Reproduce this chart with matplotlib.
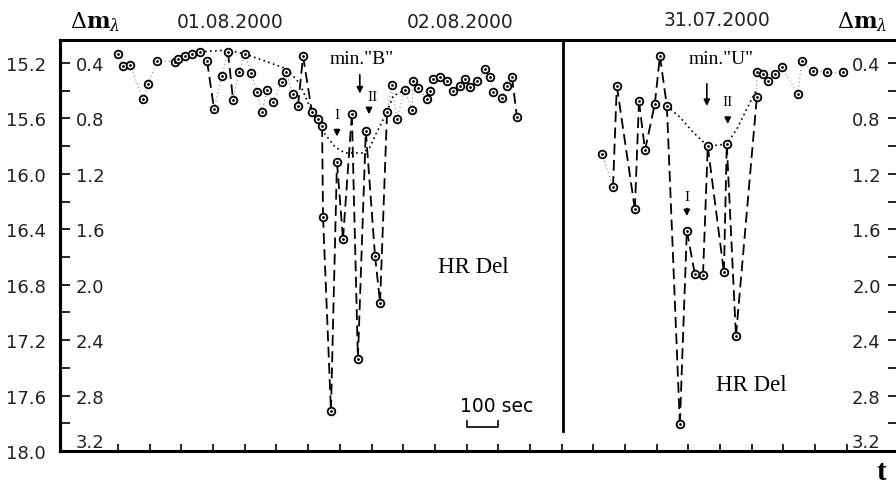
import numpy as np
import matplotlib.pyplot as plt

# time in seconds (tick every 100 s), delta m in magnitudes
# 01.08 / 02.08.2000 run (left part)
t_b = [0, 16, 38, 79, 95, 123, 180, 189, 211, 233, 259, 281, 303, 328, 347, 363,
       382, 401, 420, 439, 454, 470, 489, 517, 530, 552, 568, 584, 612, 631, 644,
       647, 672, 691, 710, 738, 757, 782, 811, 827, 849, 864, 880, 905, 928, 931,
       947, 975, 984, 994, 1016, 1038, 1057, 1079, 1095, 1111, 1133, 1158, 1174,
       1183, 1212, 1227, 1243, 1259]
m_b = [0.335, 0.42, 0.415, 0.66, 0.55, 0.385, 0.39, 0.37, 0.35, 0.335, 0.32, 0.385,
       0.73, 0.495, 0.32, 0.665, 0.465, 0.335, 0.47, 0.61, 0.755, 0.595, 0.68,
       0.535, 0.465, 0.625, 0.71, 0.35, 0.755, 0.805, 0.855, 1.51, 2.91, 1.115,
       1.67, 0.77, 2.535, 0.89, 1.79, 2.13, 0.755, 0.56, 0.805, 0.595, 0.74, 0.53,
       0.58, 0.66, 0.6, 0.515, 0.5, 0.53, 0.6, 0.565, 0.515, 0.575, 0.53, 0.445,
       0.5, 0.61, 0.65, 0.565, 0.5, 0.79]
# mean curve through min "B"
tb_mean = [259, 347, 401, 464, 533, 574, 612, 653, 685, 716, 773, 795, 817, 849, 868, 905]
mb_mean = [0.32, 0.306, 0.335, 0.386, 0.443, 0.55, 0.754, 0.912, 1.006, 1.049,
           1.049, 1.006, 0.898, 0.754, 0.638, 0.595]

# 31.07.2000 run (right part)
t_u = [1527, 1562, 1574, 1631, 1644, 1663, 1694, 1710, 1732, 1773, 1795, 1820, 1846,
       1861, 1912, 1921, 1950, 2016, 2015, 2035, 2051, 2073, 2095, 2145, 2158, 2193,
       2237, 2287]
m_u = [1.055, 1.295, 0.565, 1.455, 0.675, 1.03, 0.695, 0.35, 0.71, 3.005, 1.61, 1.92,
       1.93, 1.0, 1.91, 0.985, 2.37, 0.645, 0.465, 0.48, 0.53, 0.48, 0.43, 0.625,
       0.385, 0.46, 0.465, 0.465]
tu_mean = [1732, 1773, 1814, 1861, 1921, 1953, 1984, 2016]
mu_mean = [0.71, 0.79, 0.898, 1.0, 0.985, 0.876, 0.732, 0.588]

major = [0.4, 0.8, 1.2, 1.6, 2.0, 2.4, 2.8, 3.2]
minor = [0.6, 1.0, 1.4, 1.8, 2.2, 2.6, 3.0]
offset = 14.8          # stellar magnitude = delta m + 14.8
divider_t = 1405
x_ticks = np.arange(0, 2400, 100)

W, H = 896, 489
fig = plt.figure(figsize=(W / 100, H / 100), dpi=100)
ax = fig.add_axes([60 / W, 37 / H, 836 / W, 411 / H])
ax.set_xlim(-183, 2455)
ax.set_ylim(3.2, 0.234)

for s in ['top', 'left', 'bottom']:
    ax.spines[s].set_linewidth(2.2)
ax.spines['right'].set_visible(False)

ax.set_xticks(x_ticks)
ax.tick_params(axis='x', direction='in', length=5, width=1.2, labelbottom=False)

# inner left labels (delta m)
ax.set_yticks(major)
ax.set_yticks(minor, minor=True)
ax.set_yticklabels(['%.1f' % v for v in major])
ax.tick_params(axis='y', which='both', direction='in', length=7, width=1.2,
               pad=-11.5, labelsize=13, labelcolor='#222222')
for lbl in ax.get_yticklabels():
    lbl.set_horizontalalignment('left')
ax.get_yticklabels()[-1].set_verticalalignment('bottom')

# outer left labels (magnitudes)
sec = ax.secondary_yaxis('left', functions=(lambda y: y + offset, lambda y: y - offset))
sec.set_yticks([v + offset for v in major])
sec.set_yticklabels(['%.1f' % (v + offset) for v in major])
sec.tick_params(axis='y', length=0, pad=10, labelsize=13, labelcolor='#222222')
sec.spines['left'].set_linewidth(2.2)

# right scale for 31.07
ax2 = ax.twinx()
ax2.set_ylim(ax.get_ylim())
for s in ax2.spines.values():
    s.set_visible(False)
ax2.set_yticks(major)
ax2.set_yticks(minor, minor=True)
ax2.set_yticklabels(['%.1f' % v for v in major])
ax2.tick_params(axis='y', which='both', direction='in', length=6, width=1.2,
                pad=-11, labelsize=13, labelcolor='#222222')
for lbl in ax2.get_yticklabels():
    lbl.set_horizontalalignment('right')
ax2.get_yticklabels()[-1].set_verticalalignment('bottom')


def draw_run(t, m):
    for i in range(len(t) - 1):
        dm = abs(m[i + 1] - m[i])
        if dm > 0.25:
            ax.plot(t[i:i + 2], m[i:i + 2], color='k', lw=1.3, dashes=(6, 3))
        else:
            ax.plot(t[i:i + 2], m[i:i + 2], color='#666666', lw=0.7, dashes=(1, 3))
    ax.plot(t, m, 'o', ms=5.5, mfc='white', mec='k', mew=1.3, zorder=3)
    ax.plot(t, m, '.', ms=2, color='k', zorder=4)


draw_run(t_b, m_b)
draw_run(t_u, m_u)
ax.plot(tb_mean, mb_mean, color='k', lw=1.2, dashes=(1, 2))
ax.plot(tu_mean, mu_mean, color='k', lw=1.2, dashes=(1, 2))

ax.axvline(divider_t, ymin=0.049, color='k', lw=2)

serif = 'Liberation Serif'
arrow = dict(arrowstyle='-|>', color='k', lw=1.2, mutation_scale=9)
# min "B"
ax.text(770, 0.37, 'min."B"', family=serif, fontsize=14, ha='center', va='center')
ax.annotate('', xy=(763, 0.64), xytext=(763, 0.465), arrowprops=arrow)
ax.text(691, 0.77, 'I', family=serif, fontsize=11, ha='center', va='center')
ax.annotate('', xy=(691, 0.95), xytext=(691, 0.86), arrowprops=arrow)
ax.text(804, 0.64, 'II', family=serif, fontsize=11, ha='center', va='center')
ax.annotate('', xy=(792, 0.79), xytext=(792, 0.71), arrowprops=arrow)
# min "U"
ax.text(1902, 0.37, 'min."U"', family=serif, fontsize=14, ha='center', va='center')
ax.annotate('', xy=(1858, 0.73), xytext=(1858, 0.53), arrowprops=arrow)
ax.text(1924, 0.675, 'II', family=serif, fontsize=11, ha='center', va='center')
ax.annotate('', xy=(1924, 0.86), xytext=(1924, 0.77), arrowprops=arrow)
ax.text(1795, 1.36, 'I', family=serif, fontsize=11, ha='center', va='center')
ax.annotate('', xy=(1795, 1.525), xytext=(1795, 1.43), arrowprops=arrow)

ax.text(1120, 1.87, 'HR Del', family=serif, fontsize=16.5, ha='center', va='center')
ax.text(2000, 2.72, 'HR Del', family=serif, fontsize=16.5, ha='center', va='center')

# 100 s scale bar
ax.text(1196, 2.87, '100 sec', fontsize=13.5, ha='center', va='center')
ax.plot([1100, 1100, 1200, 1200], [2.98, 3.03, 3.03, 2.98], color='k', lw=1.2)

fig.text(95 / W, 1 - 22 / H, r'$\Delta\mathbf{m}_{\lambda}$', fontsize=16,
         ha='center', va='center', math_fontfamily='dejavuserif')
fig.text(862 / W, 1 - 22 / H, r'$\Delta\mathbf{m}_{\lambda}$', fontsize=16,
         ha='center', va='center', math_fontfamily='dejavuserif')
fig.text(230 / W, 1 - 22 / H, '01.08.2000', fontsize=13.5, ha='center', va='center',
         color='#222222')
fig.text(460 / W, 1 - 22 / H, '02.08.2000', fontsize=13.5, ha='center', va='center',
         color='#222222')
fig.text(717 / W, 1 - 20 / H, '31.07.2000', fontsize=13.5, ha='center', va='center',
         color='#222222')
fig.text(881 / W, 1 - 473 / H, 't', family=serif, fontweight='bold', fontsize=21,
         ha='center', va='center')

fig.savefig('out.png', dpi=100)
